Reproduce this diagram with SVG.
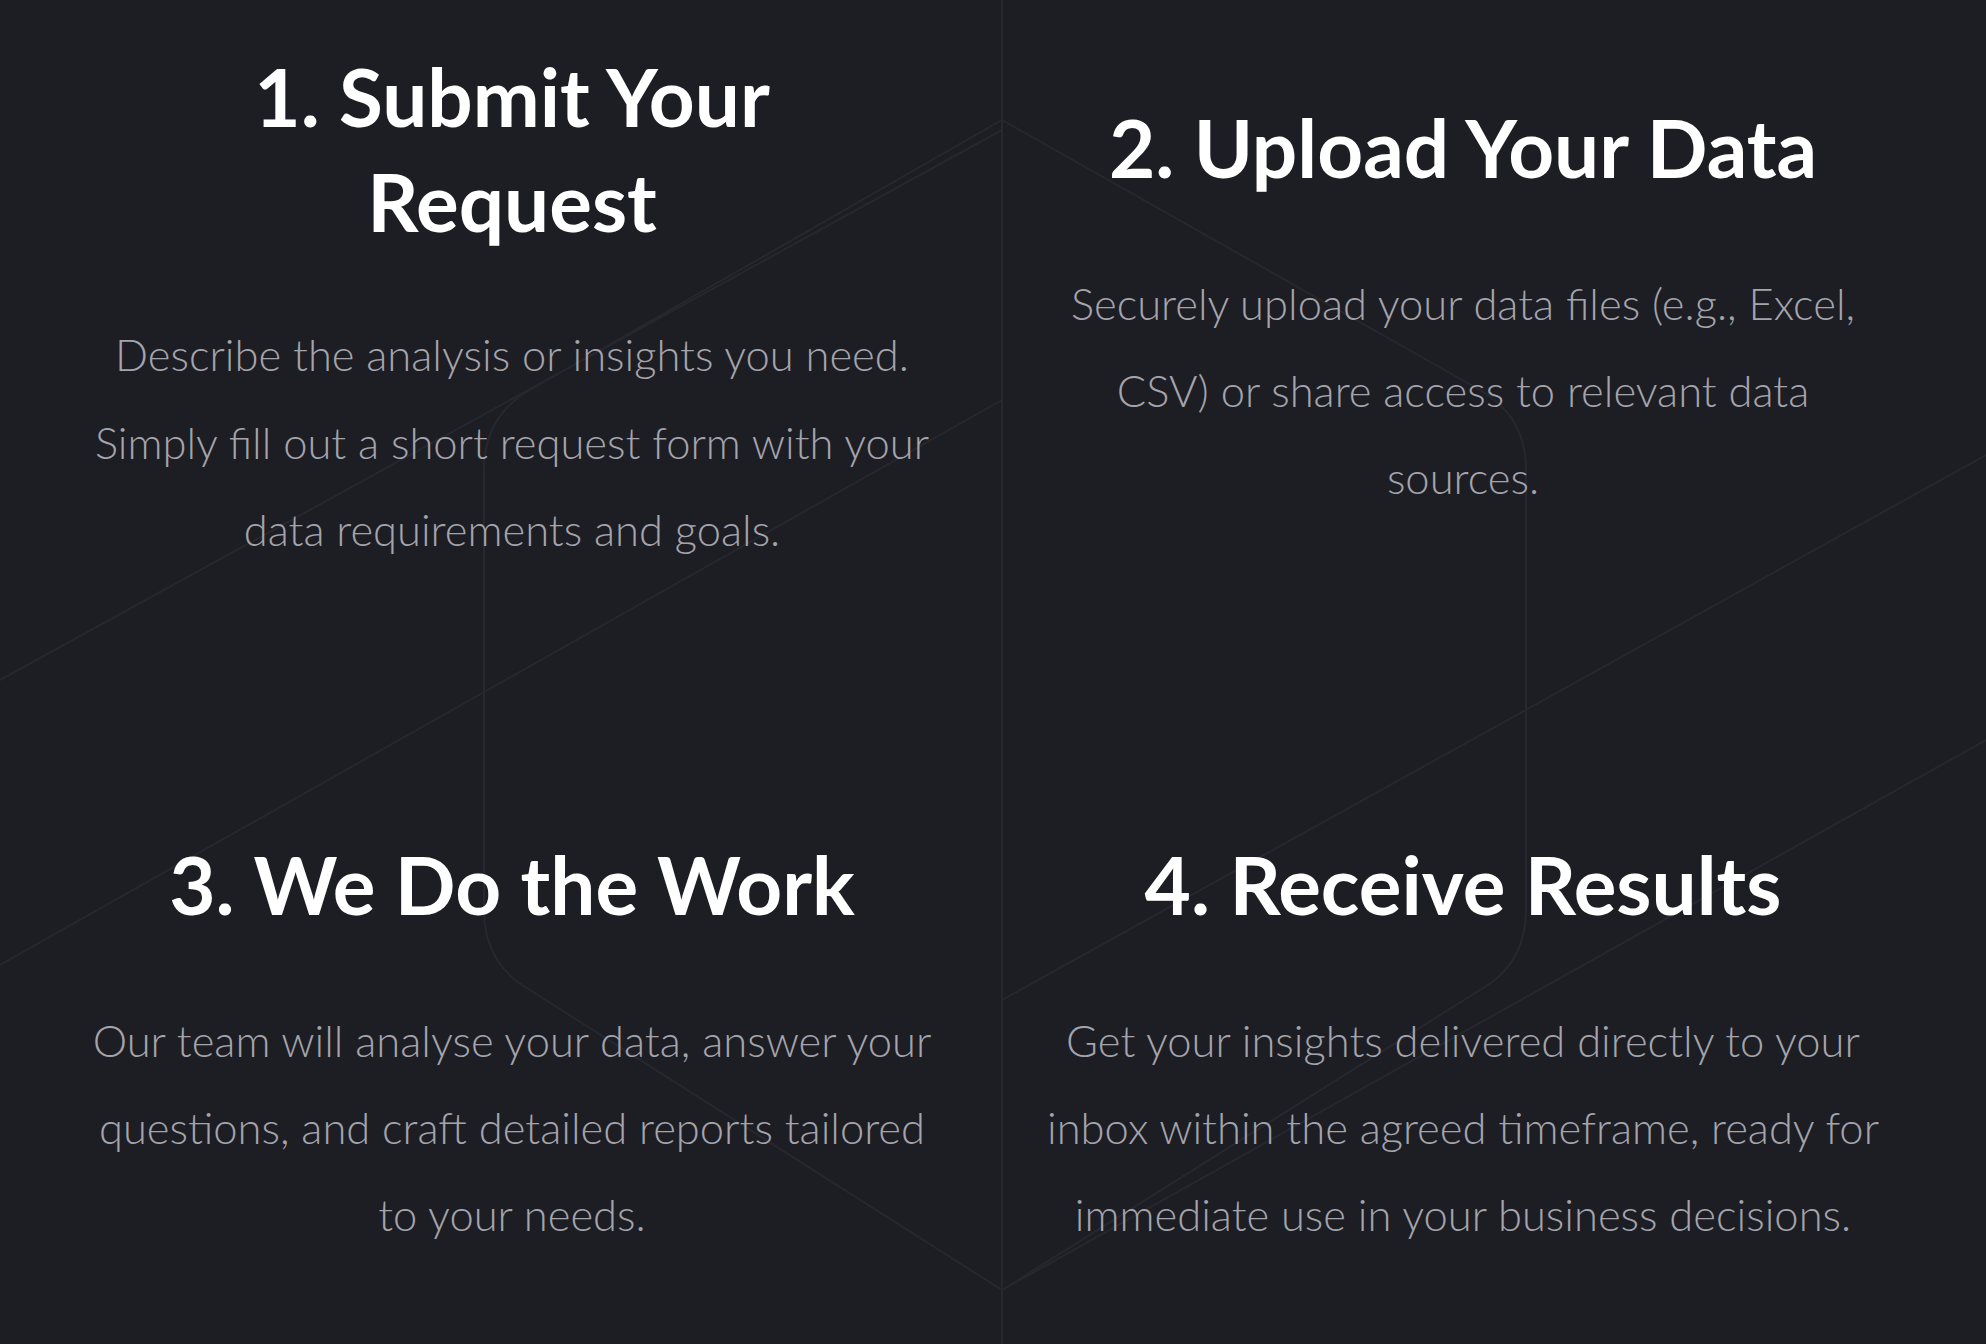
<svg xmlns="http://www.w3.org/2000/svg" width="1986" height="1344" viewBox="0 0 1986 1344">
<style>
.h{font-family:Lato,"Liberation Sans",sans-serif;font-weight:700;font-size:80px;fill:#ffffff;text-anchor:middle}
.b{font-family:Lato,"Liberation Sans",sans-serif;font-weight:300;font-size:43.5px;fill:#a4a4ac;text-anchor:middle}
.bg{fill:none;stroke:#272730;stroke-width:2}
</style>
<rect width="1986" height="1344" fill="#1d1d24"/>
<g id="background" class="bg">
<line x1="1002" y1="0" x2="1002" y2="1344"/>
<path d="M1002 120 L1480 390 Q1526 416 1526 470 L1526 910 Q1526 964 1480 990 L1002 1290 L530 990 Q484 964 484 910 L484 470 Q484 416 530 390 Z"/>
<line x1="0" y1="680" x2="1002" y2="130"/>
<line x1="0" y1="965" x2="1002" y2="400"/>
<line x1="1002" y1="1000" x2="1986" y2="455"/>
<line x1="1002" y1="1290" x2="1986" y2="740"/>
</g>
<g id="step1">
<text class="h" x="512" y="127">1. Submit Your</text>
<text class="h" x="512" y="232">Request</text>
<text class="b" x="512" y="371">Describe the analysis or insights you need.</text>
<text class="b" x="512" y="459">Simply fill out a short request form with your</text>
<text class="b" x="512" y="546">data requirements and goals.</text>
</g>
<g id="step2">
<text class="h" x="1463" y="178">2. Upload Your Data</text>
<text class="b" x="1463" y="320">Securely upload your data files (e.g., Excel,</text>
<text class="b" x="1463" y="407">CSV) or share access to relevant data</text>
<text class="b" x="1463" y="494">sources.</text>
</g>
<g id="step3">
<text class="h" x="512" y="915">3. We Do the Work</text>
<text class="b" x="512" y="1057">Our team will analyse your data, answer your</text>
<text class="b" x="512" y="1144">questions, and craft detailed reports tailored</text>
<text class="b" x="512" y="1231">to your needs.</text>
</g>
<g id="step4">
<text class="h" x="1463" y="915">4. Receive Results</text>
<text class="b" x="1463" y="1057">Get your insights delivered directly to your</text>
<text class="b" x="1463" y="1144">inbox within the agreed timeframe, ready for</text>
<text class="b" x="1463" y="1231">immediate use in your business decisions.</text>
</g>
<g id="connectors"></g>
</svg>
